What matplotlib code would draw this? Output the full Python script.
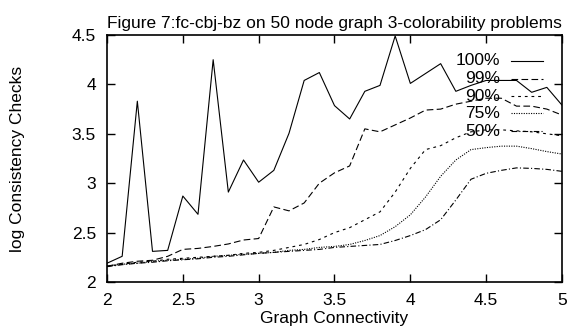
import numpy as np
import matplotlib
matplotlib.use('Agg')
import matplotlib.pyplot as plt

plt.rcParams['font.family'] = ['Liberation Sans', 'DejaVu Sans']

connectivity = [2.0, 2.1, 2.2, 2.3, 2.4, 2.5, 2.6, 2.7, 2.8, 2.9, 3.0,
                3.1, 3.2, 3.3, 3.4, 3.5, 3.6, 3.7, 3.8, 3.9, 4.0,
                4.1, 4.2, 4.3, 4.4, 4.5, 4.6, 4.7, 4.8, 4.9, 5.0]

p100 = [2.19, 2.26, 3.83, 2.31, 2.32, 2.87, 2.685, 4.25, 2.91, 3.235, 3.01,
        3.13, 3.505, 4.04, 4.12, 3.785, 3.65, 3.93, 3.99, 4.49, 4.01,
        4.11, 4.21, 3.93, 3.99, 4.04, 4.04, 4.04, 3.92, 3.97, 3.79]
p99 = [2.16, 2.19, 2.21, 2.22, 2.26, 2.33, 2.34, 2.36, 2.385, 2.425, 2.44,
       2.76, 2.72, 2.80, 3.0, 3.105, 3.175, 3.55, 3.52, 3.59, 3.66,
       3.74, 3.75, 3.80, 3.83, 3.86, 3.86, 3.78, 3.78, 3.75, 3.69]
p90 = [2.16, 2.18, 2.20, 2.21, 2.23, 2.24, 2.25, 2.26, 2.27, 2.29, 2.30,
       2.32, 2.35, 2.38, 2.43, 2.50, 2.55, 2.63, 2.71, 2.91, 3.15,
       3.34, 3.38, 3.46, 3.52, 3.54, 3.54, 3.53, 3.52, 3.50, 3.48]
p75 = [2.16, 2.18, 2.19, 2.21, 2.22, 2.23, 2.24, 2.26, 2.27, 2.28, 2.29,
       2.30, 2.32, 2.33, 2.35, 2.36, 2.38, 2.42, 2.47, 2.56, 2.68,
       2.86, 3.07, 3.235, 3.34, 3.36, 3.375, 3.375, 3.35, 3.32, 3.295]
p50 = [2.155, 2.175, 2.19, 2.20, 2.215, 2.225, 2.235, 2.25, 2.26, 2.275, 2.29,
       2.30, 2.31, 2.32, 2.33, 2.35, 2.36, 2.37, 2.38, 2.42, 2.47,
       2.53, 2.63, 2.83, 3.04, 3.10, 3.13, 3.155, 3.15, 3.14, 3.12]

labels = ['100%', '99%', '90%', '75%', '50%']
series = [p100, p99, p90, p75, p50]
styles = ['-', (0, (6, 3)), (0, (2.5, 3.5)), (0, (1, 1.2)), (0, (5, 2, 1, 2))]

fig = plt.figure(figsize=(5.68, 3.26), dpi=100)
ax = fig.add_axes([107/568, 44/326, 455/568, 247/326])

for lab, ys, ls in zip(labels, series, styles):
    ax.plot(connectivity, ys, color='black', lw=0.8, linestyle=ls)

# gnuplot-style key: right aligned text, sample line to the right
key_y = [0.895, 0.823, 0.753, 0.683, 0.611]
for lab, ls, ky in zip(labels, styles, key_y):
    ax.text(0.864, ky, lab, transform=ax.transAxes, ha='right', va='center',
            fontsize=12.5)
    ax.plot([0.888, 0.958], [ky, ky], transform=ax.transAxes, color='black',
            lw=0.8, linestyle=ls)

ax.set_xlim(2, 5)
ax.set_ylim(2, 4.5)
ax.set_xticks([2, 2.5, 3, 3.5, 4, 4.5, 5])
ax.set_xticklabels(['2', '2.5', '3', '3.5', '4', '4.5', '5'])
ax.set_yticks([2, 2.5, 3, 3.5, 4, 4.5])
ax.set_yticklabels(['2', '2.5', '3', '3.5', '4', '4.5'])
ax.tick_params(direction='in', length=6, width=1, top=True, right=True,
               labelsize=12.5, pad=8)
for s in ax.spines.values():
    s.set_linewidth(1.2)

ax.set_title('Figure 7:fc-cbj-bz on 50 node graph 3-colorability problems',
             fontsize=12.5, pad=5)
ax.set_xlabel('Graph Connectivity', fontsize=12.5, labelpad=2)
ax.set_ylabel('log Consistency Checks', fontsize=12.5)
ax.yaxis.set_label_coords(-0.18, 0.5)

fig.savefig('out.png', dpi=100)
